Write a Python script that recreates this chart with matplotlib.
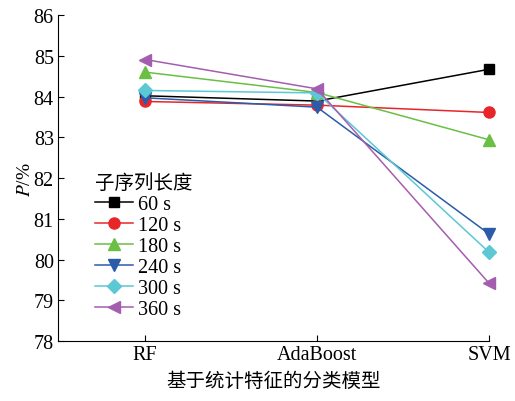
import matplotlib
matplotlib.use("Agg")
import matplotlib.pyplot as plt

plt.rcParams['font.family'] = ['Liberation Serif', 'Noto Sans CJK SC']
plt.rcParams['mathtext.fontset'] = 'stix'

models = ["RF", "AdaBoost", "SVM"]
labels = ["60 s", "120 s", "180 s", "240 s", "300 s", "360 s"]
v60 = [84.02, 83.89, 84.67]
v120 = [83.88, 83.79, 83.61]
v180 = [84.60, 84.10, 82.94]
v240 = [83.97, 83.74, 80.63]
v300 = [84.15, 84.09, 80.18]
v360 = [84.91, 84.19, 79.42]

series = [v60, v120, v180, v240, v300, v360]
colors = ["#000000", "#e8262a", "#6abf45", "#2a5caa", "#5bc8d4", "#a45eb0"]
markers = ["s", "o", "^", "v", "D", "<"]
msizes = [7, 8, 8, 8, 7, 8]

fig = plt.figure(figsize=(5.15, 4.02), dpi=100)
ax = fig.add_axes([0.1126, 0.149, 0.837, 0.811])
x = list(range(len(models)))
for s, c, m, ms, lab in zip(series, colors, markers, msizes, labels):
    ax.plot(x, s, color=c, marker=m, markersize=ms, linewidth=1.1, label=lab,
            clip_on=False)

ax.set_xlim(-0.506, 2.0)
ax.set_ylim(78, 86)
ax.set_yticks(range(78, 87))
ax.set_xticks(x)
ax.set_xticklabels(models)
ax.spines['top'].set_visible(False)
ax.spines['right'].set_visible(False)
ax.tick_params(direction='in', labelsize=14.5, length=4, pad=3)
ax.set_ylabel("$P$/%", fontsize=14, labelpad=0)
ax.set_xlabel("基于统计特征的分类模型", fontsize=14, family=['Noto Sans CJK SC'], labelpad=4)

leg = ax.legend(loc='upper left', bbox_to_anchor=(0.086, 0.52), frameon=False,
                fontsize=14.5, title="子序列长度", handlelength=1.9,
                handletextpad=0.25, labelspacing=0.1, borderpad=0.0,
                borderaxespad=0.0)
leg.get_title().set_fontfamily(['Noto Sans CJK SC'])
leg.get_title().set_fontsize(14)
leg._legend_box.align = "left"

fig.savefig("out.png", dpi=100)
